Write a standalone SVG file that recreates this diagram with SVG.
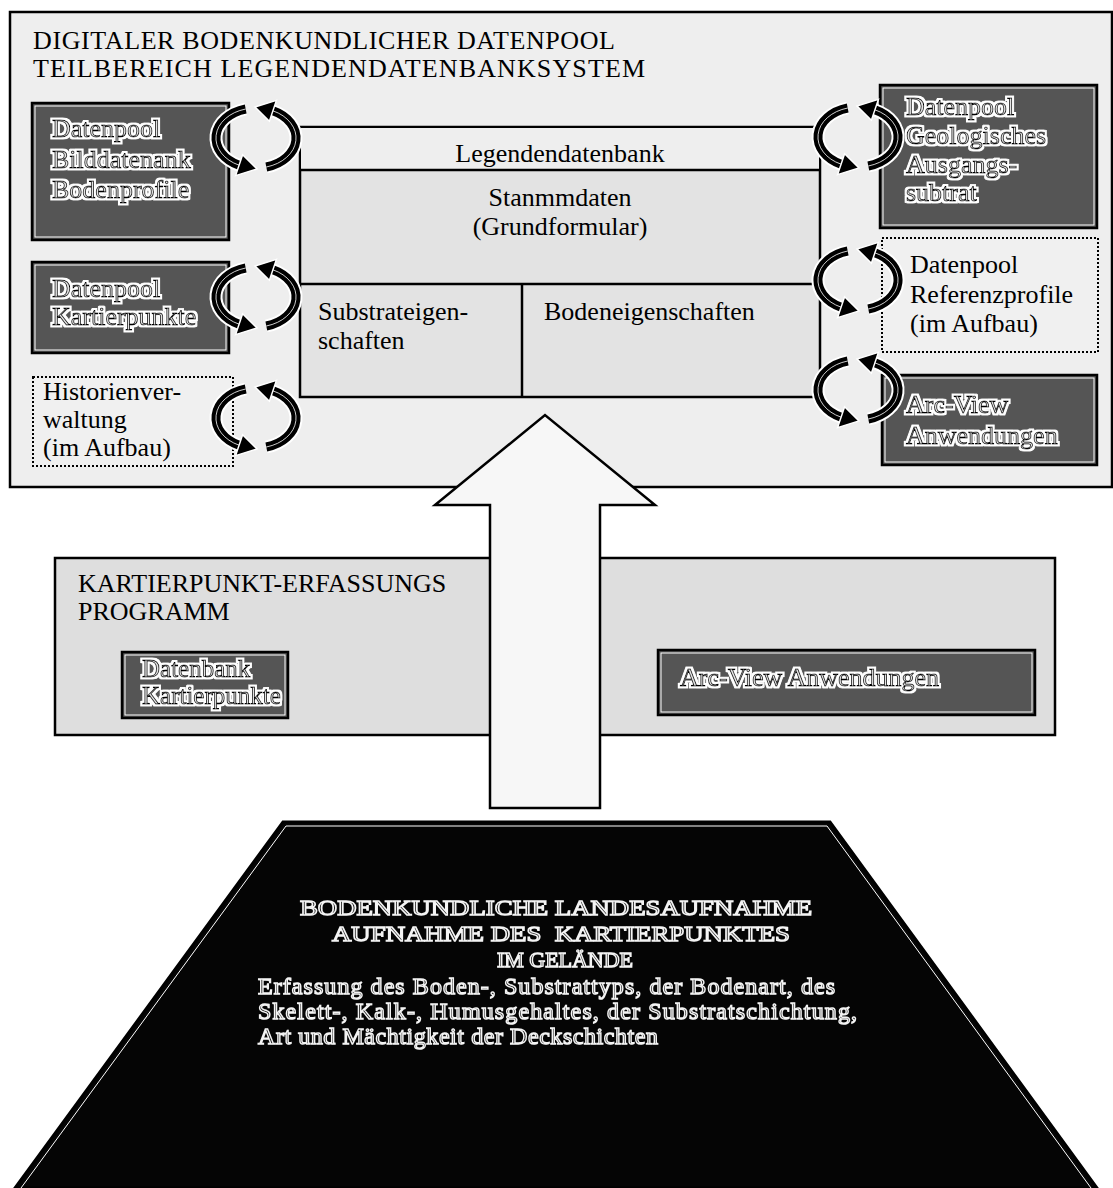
<svg xmlns="http://www.w3.org/2000/svg" xmlns:xlink="http://www.w3.org/1999/xlink" width="1113" height="1188" viewBox="0 0 1113 1188">
  <style>
    .t { font-family: "Liberation Serif", "Times New Roman", serif; font-size: 26px; fill: #000; }
    .emb { font-family: "Liberation Serif", "Times New Roman", serif; font-size: 26px; fill: #e4e4e4; stroke: #000; stroke-width: 0.9px; filter: url(#halo); }
    .out { font-family: "Liberation Serif", "Times New Roman", serif; font-size: 24px; fill: #111; stroke: #f4f4f4; stroke-width: 1.4px; filter: url(#flat); }
    .caps { font-size: 22px; }
    .frame { fill: #eeeeee; stroke: #000; stroke-width: 2.5; }
    .panel { fill: #dedede; stroke: #000; stroke-width: 2.5; }
    .dark { fill: #555; stroke: #000; stroke-width: 2.5; }
    .inner { fill: none; stroke: #fff; stroke-width: 1; }
    .dotted { fill: #f0f0f0; stroke: #000; stroke-width: 2; stroke-dasharray: 2 2; }
    .cell { fill: #e3e3e3; stroke: #000; stroke-width: 2.5; }
    .rule { fill: none; stroke: #000; stroke-width: 2.5; }
    .c { text-anchor: middle; }
  </style>
  <defs>
    <filter id="halo" x="-10%" y="-30%" width="120%" height="160%">
      <feMorphology in="SourceAlpha" operator="dilate" radius="1.6" result="grown"/>
      <feFlood flood-color="#fff"/>
      <feComposite in2="grown" operator="in" result="white"/>
      <feMerge>
        <feMergeNode in="white"/>
        <feMergeNode in="SourceGraphic"/>
      </feMerge>
    </filter>
    <filter id="flat" x="-5%" y="-30%" width="110%" height="160%">
      <feMerge><feMergeNode in="SourceGraphic"/></feMerge>
    </filter>
    <!-- pair of chasing arrows round an ellipse, centred on 0,0 -->
    <g id="cycle">
      <g fill="none">
        <path d="M10.3,29 A40 30 0 0 0 16.9,-27.2" stroke="#fff" stroke-width="13"/>
        <path d="M-10.3,-29 A40 30 0 0 0 -16.9,27.2" stroke="#fff" stroke-width="13"/>
        <path d="M10.3,29 A40 30 0 0 0 16.9,-27.2" stroke="#000" stroke-width="9"/>
        <path d="M-10.3,-29 A40 30 0 0 0 -16.9,27.2" stroke="#000" stroke-width="9"/>
        <path d="M10.3,29 A40 30 0 0 0 16.9,-27.2" stroke="#fff" stroke-width="0.8"/>
        <path d="M-10.3,-29 A40 30 0 0 0 -16.9,27.2" stroke="#fff" stroke-width="0.8"/>
      </g>
      <polygon points="20.4,-37.6 -1,-31 13.4,-16.8" fill="#000" stroke="#fff" stroke-width="1.5"/>
      <polygon points="-20.4,37.6 1,31 -13.4,16.8" fill="#000" stroke="#fff" stroke-width="1.5"/>
    </g>
  </defs>

  <rect width="1113" height="1188" fill="#fff"/>

  <!-- upper frame: soil data pool, legend database system -->
  <g id="datenpool">
    <rect class="frame" x="10" y="12" width="1102" height="475"/>
    <text class="t" x="33" y="49" textLength="582">DIGITALER BODENKUNDLICHER DATENPOOL</text>
    <text class="t" x="33" y="77" textLength="612">TEILBEREICH LEGENDENDATENBANKSYSTEM</text>
  </g>

  <g id="bilddatenbank">
    <rect class="dark" x="32" y="103" width="197" height="137"/>
    <rect class="inner" x="35" y="106" width="191" height="131"/>
    <text class="emb" x="52" y="137">Datenpool</text>
    <text class="emb" x="52" y="168">Bilddatenank</text>
    <text class="emb" x="52" y="198">Bodenprofile</text>
  </g>

  <g id="kartierpunkte">
    <rect class="dark" x="32" y="262" width="197" height="91"/>
    <rect class="inner" x="35" y="265" width="191" height="85"/>
    <text class="emb" x="52" y="297">Datenpool</text>
    <text class="emb" x="52" y="325">Kartierpunkte</text>
  </g>

  <g id="historienverwaltung">
    <rect class="dotted" x="33" y="377" width="200" height="89"/>
    <text class="t" x="43" y="400">Historienver-</text>
    <text class="t" x="43" y="428">waltung</text>
    <text class="t" x="43" y="456">(im Aufbau)</text>
  </g>

  <g id="legendendatenbank">
    <rect class="cell" x="300" y="127" width="520" height="270"/>
    <rect x="301" y="128" width="518" height="42" fill="#eeeeee"/>
    <line class="rule" x1="300" y1="170" x2="820" y2="170"/>
    <line class="rule" x1="300" y1="284" x2="820" y2="284"/>
    <line class="rule" x1="522" y1="284" x2="522" y2="397"/>
    <text class="t c" x="560" y="162">Legendendatenbank</text>
    <text class="t c" x="560" y="206">Stanmmdaten</text>
    <text class="t c" x="560" y="235">(Grundformular)</text>
    <text class="t" x="318" y="320">Substrateigen-</text>
    <text class="t" x="318" y="349">schaften</text>
    <text class="t" x="544" y="320">Bodeneigenschaften</text>
  </g>

  <g id="geologie">
    <rect class="dark" x="880" y="85" width="217" height="143"/>
    <rect class="inner" x="883" y="88" width="211" height="137"/>
    <text class="emb" x="906" y="115">Datenpool</text>
    <text class="emb" x="906" y="144">Geologisches</text>
    <text class="emb" x="906" y="173">Ausgangs-</text>
    <text class="emb" x="906" y="201">subtrat</text>
  </g>

  <g id="referenzprofile">
    <rect class="dotted" x="882" y="238" width="216" height="114"/>
    <text class="t" x="910" y="273">Datenpool</text>
    <text class="t" x="910" y="303">Referenzprofile</text>
    <text class="t" x="910" y="332">(im Aufbau)</text>
  </g>

  <g id="arcview-pool">
    <rect class="dark" x="882" y="375" width="215" height="90"/>
    <rect class="inner" x="885" y="378" width="209" height="84"/>
    <text class="emb" x="906" y="413">Arc-View</text>
    <text class="emb" x="906" y="444">Anwendungen</text>
  </g>

  <!-- middle frame: field data capture program -->
  <g id="erfassungsprogramm">
    <rect class="panel" x="55" y="558" width="1000" height="177"/>
    <text class="t" x="78" y="592">KARTIERPUNKT-ERFASSUNGS</text>
    <text class="t" x="78" y="620">PROGRAMM</text>
  </g>

  <g id="datenbank-kartierpunkte">
    <rect class="dark" x="122" y="652" width="166" height="66"/>
    <rect class="inner" x="125" y="655" width="160" height="60"/>
    <text class="emb" x="142" y="677" style="font-size:25px">Datenbank</text>
    <text class="emb" x="142" y="704" style="font-size:25px">Kartierpunkte</text>
  </g>

  <g id="arcview-programm">
    <rect class="dark" x="658" y="650" width="377" height="65"/>
    <rect class="inner" x="661" y="653" width="371" height="59"/>
    <text class="emb" x="680" y="686">Arc-View Anwendungen</text>
  </g>

  <!-- base: field survey -->
  <g id="landesaufnahme">
    <polygon points="283,822 830,822 1097,1188 15,1188" fill="#050505" stroke="#000" stroke-width="3"/>
    <polyline points="21,1188 286,826 827,826 1091,1188" fill="none" stroke="#fff" stroke-width="1"/>
    <text class="out caps c" x="556" y="915" textLength="512" lengthAdjust="spacingAndGlyphs">BODENKUNDLICHE LANDESAUFNAHME</text>
    <text class="out caps c" x="561" y="941" textLength="458" lengthAdjust="spacingAndGlyphs" xml:space="preserve">AUFNAHME DES  KARTIERPUNKTES</text>
    <text class="out caps c" x="565" y="967" textLength="136" lengthAdjust="spacingAndGlyphs">IM GELÄNDE</text>
    <text class="out" x="258" y="994" textLength="577">Erfassung des Boden-, Substrattyps, der Bodenart, des</text>
    <text class="out" x="258" y="1019" textLength="599">Skelett-, Kalk-, Humusgehaltes, der Substratschichtung,</text>
    <text class="out" x="258" y="1044" textLength="400">Art und Mächtigkeit der Deckschichten</text>
  </g>

  <g id="connectors">
    <!-- exchange arrows between the pools and the legend database -->
    <use xlink:href="#cycle" x="256" y="138"/>
    <use xlink:href="#cycle" x="256" y="297"/>
    <use xlink:href="#cycle" x="256" y="418"/>
    <use xlink:href="#cycle" x="858" y="137"/>
    <use xlink:href="#cycle" x="858" y="280"/>
    <use xlink:href="#cycle" x="858" y="390"/>
    <!-- data flow upwards from the field survey -->
    <polygon points="490,808 490,505 435,505 545,415 655,505 600,505 600,808" fill="#f7f7f7" stroke="#000" stroke-width="2.5"/>
  </g>
</svg>
